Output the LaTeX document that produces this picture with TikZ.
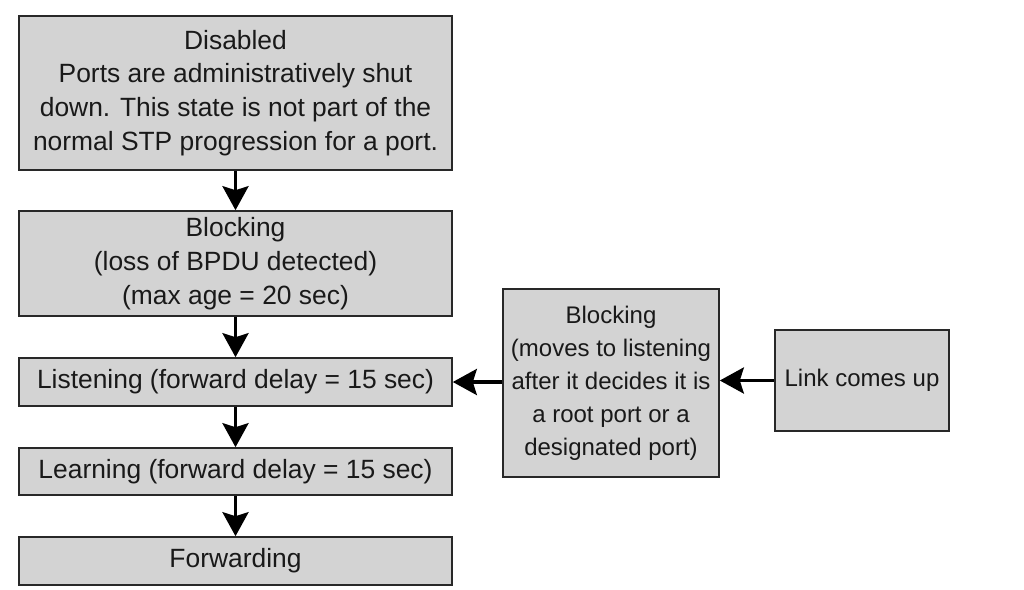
\documentclass[tikz,border=0pt]{standalone}
\usepackage{fontspec}
\setmainfont{Liberation Sans}
\usetikzlibrary{arrows.meta}
\definecolor{boxfill}{RGB}{211,211,211}
\definecolor{boxline}{RGB}{40,40,40}
\begin{document}
\begin{tikzpicture}[x=1pt,y=-1pt,
  state/.style={draw=boxline,fill=boxfill,line width=1.6pt,rectangle,inner sep=0pt,
    align=center,font=\fontsize{26.4}{33.7}\selectfont,text=black!90},
  side/.style={state,font=\fontsize{24}{33}\selectfont},
  flow/.style={line width=3.5pt,-{Stealth[length=24pt,width=26pt,inset=4pt]}}]
\useasboundingbox (0,0) rectangle (1024,589);
\node[state,minimum width=433pt,minimum height=154pt] (dis) at (235.5,93)
  {Disabled\\Ports are administratively shut\\down. This state is not part of the\\normal STP progression for a port.};
\node[state,minimum width=433pt,minimum height=105pt] (blk) at (235.5,263.5)
  {Blocking\\(loss of BPDU detected)\\(max age = 20 sec)};
\node[state,minimum width=433pt,minimum height=48pt] (lis) at (235.5,382)
  {Listening (forward delay = 15 sec)};
\node[state,minimum width=433pt,minimum height=47pt] (lea) at (235.5,471.5)
  {Learning (forward delay = 15 sec)};
\node[state,minimum width=433pt,minimum height=48pt] (fwd) at (235.5,561)
  {Forwarding};
\node[side,minimum width=216pt,minimum height=188pt] (mid) at (611,383)
  {Blocking\\(moves to listening\\after it decides it is\\a root port or a\\designated port)};
\node[side,minimum width=174pt,minimum height=101pt] (link) at (862,380.5)
  {Link comes up};
\draw[flow] (dis.south) -- (blk.north);
\draw[flow] (blk.south) -- (lis.north);
\draw[flow] (lis.south) -- (lea.north);
\draw[flow] (lea.south) -- (fwd.north);
\draw[flow] (mid.west |- lis.east) -- (lis.east);
\draw[flow] (link.west) -- (link.west -| mid.east);
\end{tikzpicture}
\end{document}
